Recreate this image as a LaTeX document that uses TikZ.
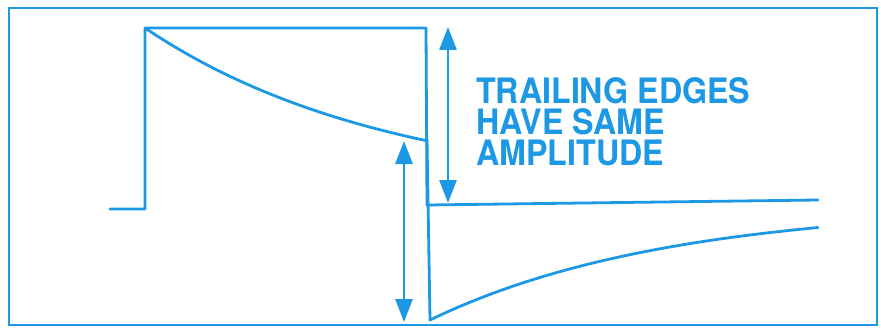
\documentclass[tikz,border=0pt]{standalone}
\usepackage{fontspec}
\usetikzlibrary{arrows.meta}
\newfontfamily\lblfont[FakeStretch=0.92]{TeX Gyre Heros}
\definecolor{scope}{RGB}{28,152,228}
\begin{document}
\begin{tikzpicture}[x=1pt,y=-1pt,
  trace/.style={draw=scope,line width=2.8pt,line join=round,line cap=round},
  frame/.style={draw=scope,line width=2.4pt},
  dimarrow/.style={draw=scope,line width=2.8pt,{Triangle[width=17pt,length=23pt]}-{Triangle[width=17pt,length=23pt]}},
  label/.style={text=scope,font=\lblfont\bfseries\fontsize{35}{31}\selectfont,inner sep=0pt,anchor=base west}]
\useasboundingbox (0,0) rectangle (881,329);
\fill[white] (0,0) rectangle (881,329);
% frame
\draw[frame] (9,8) rectangle (877,325);
% coordinates
\coordinate (start) at (110,209);
\coordinate (riseB) at (145,209);
\coordinate (peak) at (145,28);
\coordinate (topR) at (426,28);
\coordinate (refLow) at (427,205);
\coordinate (refEnd) at (818,200);
\coordinate (decEnd) at (427,140);
\coordinate (fallB) at (430,320);
% reference (square) trace
\draw[trace] (start) -- (riseB) -- (peak) -- (topR) -- (refLow) -- (refEnd);
% tilted trace
\draw[trace] plot[domain=145:427,samples=60] (\x,{28+165*(1-exp(-(\x-145)/245))});
\draw[trace] (decEnd) -- (fallB);
\draw[trace] plot[domain=430:818,samples=60] (\x,{320-115*(1-exp(-(\x-430)/238))});
% arrows
\coordinate (a1t) at (448,27);
\coordinate (a1b) at (448,203);
\coordinate (a2t) at (404,141);
\coordinate (a2b) at (404,322);
\draw[dimarrow] (a1t) -- (a1b);
\draw[dimarrow] (a2t) -- (a2b);
% label
\node[label] (txt1) at (476,103) {TRAILING EDGES};
\node[label] (txt2) at (476,134) {HAVE SAME};
\node[label] (txt3) at (476,165) {AMPLITUDE};
\end{tikzpicture}
\end{document}
